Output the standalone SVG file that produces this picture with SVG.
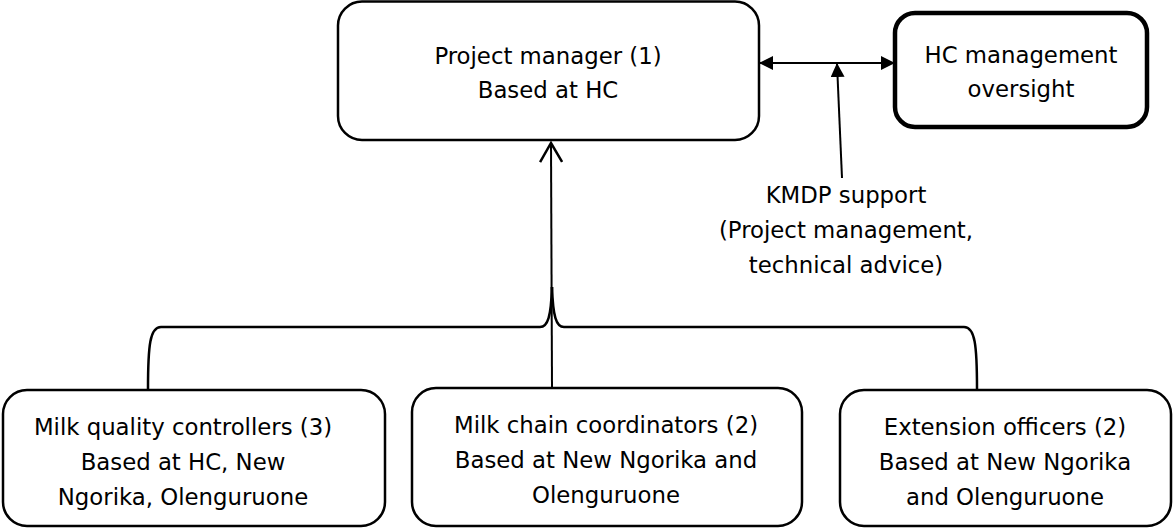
<svg xmlns="http://www.w3.org/2000/svg" width="1174" height="528" viewBox="0 0 1174 528">
  <style>
    .box { fill: #ffffff; stroke: #000000; stroke-width: 2.5; }
    .box-bold { fill: #ffffff; stroke: #000000; stroke-width: 4.5; }
    .label { font-family: "DejaVu Sans", Verdana, sans-serif; font-size: 22.8px; fill: #000000; text-anchor: middle; }
    .link { fill: none; stroke: #000000; stroke-width: 2; }
    .brace { fill: none; stroke: #000000; stroke-width: 2.5; }
  </style>
  <defs>
    <marker id="solid" viewBox="0 0 14 14" refX="13" refY="7" markerWidth="14" markerHeight="14" markerUnits="userSpaceOnUse" orient="auto-start-reverse">
      <path d="M0,0 L14,7 L0,14 Z" fill="#000000"/>
    </marker>
    <marker id="open" viewBox="0 0 22 24" refX="20" refY="12" markerWidth="22" markerHeight="24" markerUnits="userSpaceOnUse" orient="auto">
      <path d="M1,1 L20,12 L1,23" fill="none" stroke="#000000" stroke-width="2.5"/>
    </marker>
  </defs>

  <!-- connectors -->
  <g id="connectors">
    <!-- brace gathering the three field teams -->
    <path class="brace" d="M148,389 C148,345 150,327 161,327 L540,327 C548,327 551,316 552,287"/>
    <path class="brace" d="M977,389 C977,345 975,327 964,327 L564,327 C556,327 553,316 552,287"/>
    <!-- reporting line up to the project manager -->
    <path class="link" d="M552,388 L551,143" stroke-width="2.5" marker-end="url(#open)"/>
    <!-- manager and oversight, two-way -->
    <path class="link" d="M760,63 L894,63" marker-start="url(#solid)" marker-end="url(#solid)"/>
    <!-- KMDP support feeding in -->
    <path class="link" d="M842,178 L837,64" marker-end="url(#solid)"/>
  </g>

  <g id="project-manager">
    <rect class="box" x="338" y="1.5" width="421" height="138.5" rx="24"/>
    <text class="label" x="548" y="64">Project manager (1)</text>
    <text class="label" x="548" y="98">Based at HC</text>
  </g>

  <g id="hc-oversight">
    <rect class="box-bold" x="895" y="13" width="252" height="114" rx="20"/>
    <text class="label" x="1021" y="63">HC management</text>
    <text class="label" x="1021" y="97">oversight</text>
  </g>

  <g id="kmdp-support">
    <text class="label" x="846" y="203">KMDP support</text>
    <text class="label" x="846" y="238">(Project management,</text>
    <text class="label" x="846" y="273">technical advice)</text>
  </g>

  <g id="milk-quality">
    <rect class="box" x="3" y="390" width="382" height="136" rx="24"/>
    <text class="label" x="183" y="435">Milk quality controllers (3)</text>
    <text class="label" x="183" y="470">Based at HC, New</text>
    <text class="label" x="183" y="505">Ngorika, Olenguruone</text>
  </g>

  <g id="milk-chain">
    <rect class="box" x="412" y="388" width="390" height="138" rx="24"/>
    <text class="label" x="606" y="433">Milk chain coordinators (2)</text>
    <text class="label" x="606" y="468">Based at New Ngorika and</text>
    <text class="label" x="606" y="503">Olenguruone</text>
  </g>

  <g id="extension">
    <rect class="box" x="840" y="390" width="331" height="136" rx="24"/>
    <text class="label" x="1005" y="435">Extension officers (2)</text>
    <text class="label" x="1005" y="470">Based at New Ngorika</text>
    <text class="label" x="1005" y="505">and Olenguruone</text>
  </g>
</svg>
